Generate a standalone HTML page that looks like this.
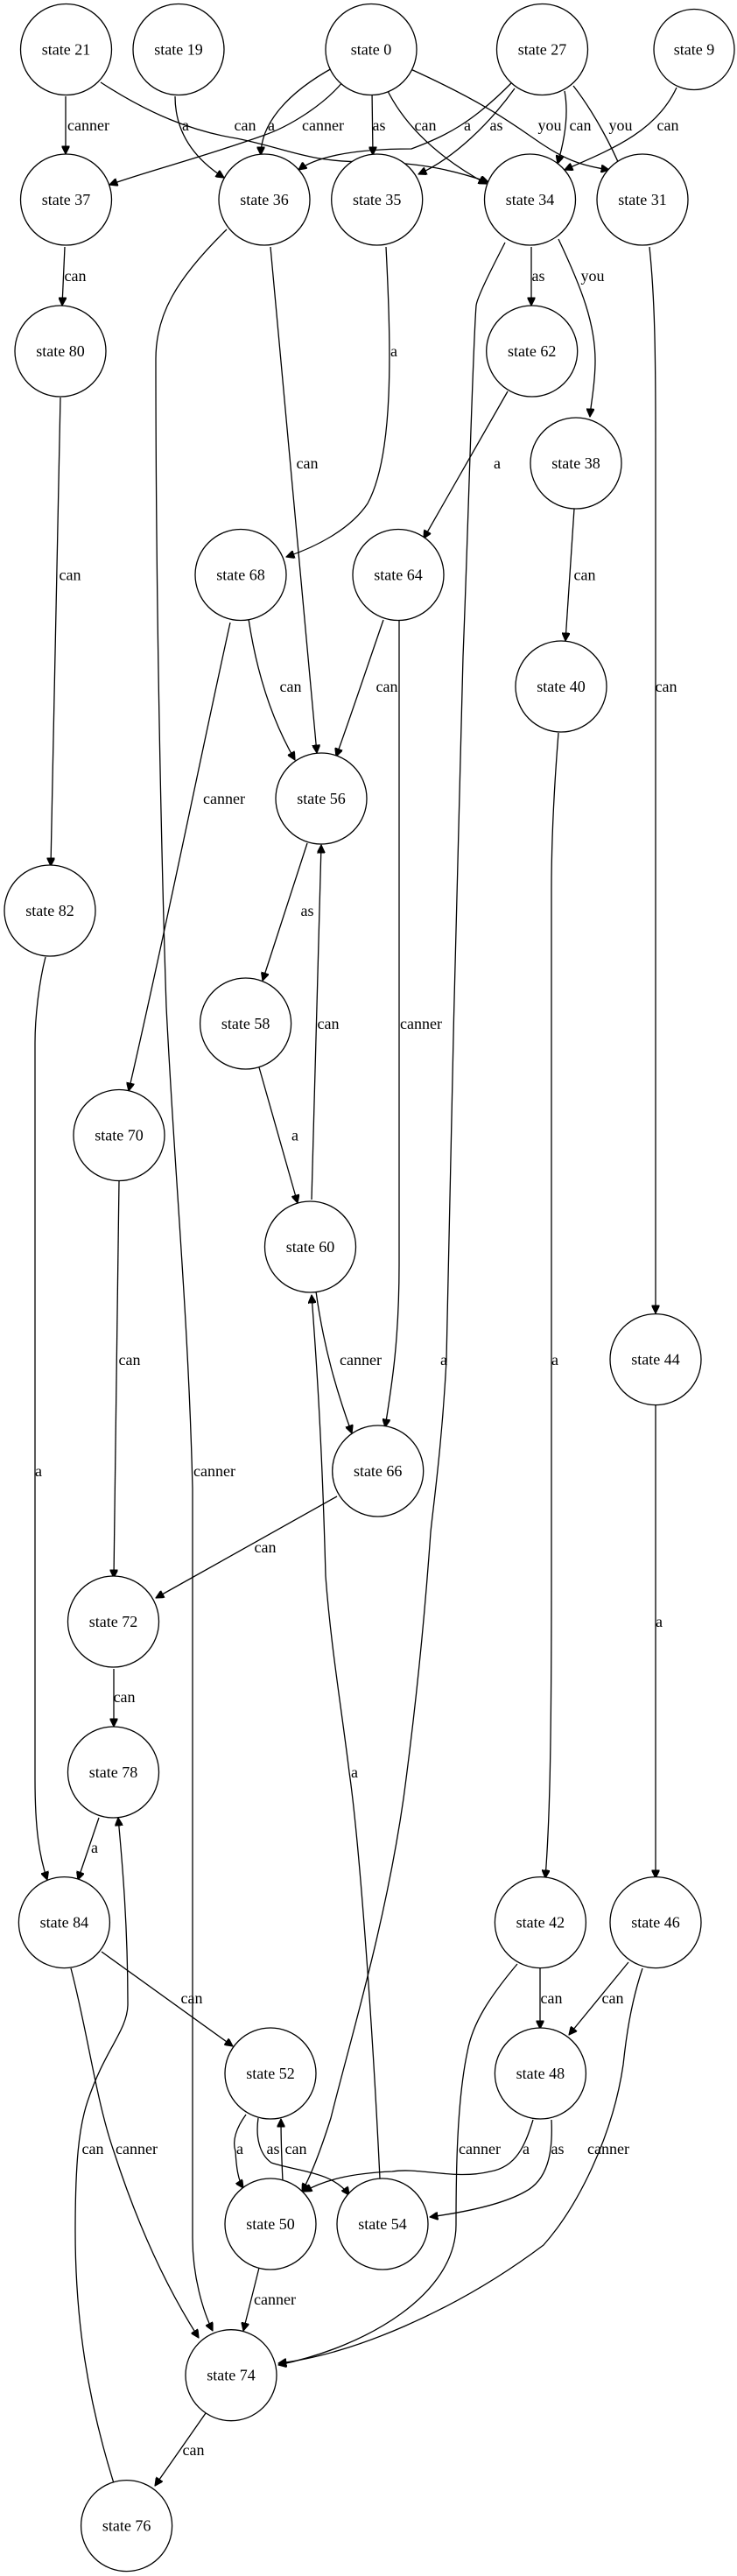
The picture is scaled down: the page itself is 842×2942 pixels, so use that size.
<!DOCTYPE html>
<html><head><meta charset="utf-8"><style>
html,body{margin:0;padding:0;background:#fff;}
svg{display:block;}
text{font-family:"Liberation Serif",serif;font-size:18px;fill:#000;}
.n{text-anchor:middle;dominant-baseline:central;}
.l{text-anchor:middle;dominant-baseline:central;}
path,line{fill:none;stroke:#000;stroke-width:1.3;}
circle{fill:#fff;stroke:#000;stroke-width:1.3;}
</style></head><body>
<svg width="842" height="2942" viewBox="0 0 842 2942" xmlns="http://www.w3.org/2000/svg">
<defs><marker id="a" viewBox="0 0 10 10" refX="10" refY="5" markerWidth="10" markerHeight="9" markerUnits="userSpaceOnUse" orient="auto"><path d="M0,0 L10,5 L0,10 z" style="fill:#000;stroke:#000"/></marker></defs>
<g marker-end="url(#a)">
<path d="M75,110 L75,176"/>
<path d="M115,94 C170,130 220,150 270,158 C330,170 350,185 420,185 C480,185 520,195 558,208"/>
<path d="M200,110 C200,150 220,180 256,203"/>
<path d="M381,77 C330,105 298,140 298,177"/>
<path d="M392,93 C370,120 330,145 300,155 C230,180 170,195 125,211"/>
<path d="M425,103 L426,177"/>
<path d="M441,100 C465,150 510,185 556,210"/>
<path d="M467,78 C560,120 590,145 620,165 C650,185 670,190 696,194"/>
<path d="M586,93 C540,140 510,155 470,170 C400,170 360,180 341,194"/>
<path d="M588,101 C560,140 520,180 478,199"/>
<path d="M645,104 C650,130 645,160 637,187"/>
<path d="M655,98 C680,130 700,170 710,194"/>
<path d="M773,100 C750,150 700,170 645,194"/>
<path d="M74,282 L71,349"/>
<path d="M69,454 L58,989"/>
<path d="M259,262 C200,320 178,360 178,410 C178,700 185,1000 190,1150 C200,1350 215,1500 220,1700 C220,2200 220,2450 220,2556 C220,2600 232,2640 243,2662"/>
<path d="M309,282 L362,860"/>
<path d="M441,282 C447,400 450,520 420,575 C400,605 360,625 327,636"/>
<path d="M607,282 L607,349"/>
<path d="M638,273 C665,330 680,370 680,412 C680,440 675,460 674,476"/>
<path d="M577,277 C560,310 545,340 544,349 C540,400 535,600 529,750 C522,1000 515,1300 510,1553 C505,1650 495,1720 492,1750 C485,1850 475,1950 461,2054 C440,2200 400,2330 378,2419 C365,2460 355,2485 345,2503"/>
<path d="M580,447 L484,615"/>
<path d="M656,581 L646,732"/>
<path d="M742,282 C748,340 749,400 749,500 L749,1500"/>
<path d="M284,707 C295,780 315,830 337,868"/>
<path d="M263,711 C230,860 190,1060 147,1246"/>
<path d="M438,708 C420,760 400,820 384,864"/>
<path d="M456,707 L456,1444 C456,1530 448,1580 440,1630"/>
<path d="M351,963 L300,1120"/>
<path d="M296,1219 L340,1374"/>
<path d="M356,1370 L367,965"/>
<path d="M361,1475 C370,1540 385,1590 402,1637"/>
<path d="M434,2488 C425,2300 410,2100 399,2024 C390,1950 378,1880 372,1800 C368,1650 362,1560 356,1479"/>
<path d="M638,837 C633,900 630,960 630,1016 L630,1800 C630,2000 628,2080 623,2145"/>
<path d="M749,1605 L749,2145"/>
<path d="M136,1349 L130,1802"/>
<path d="M385,1709 L178,1825"/>
<path d="M130,1906 L130,1972"/>
<path d="M113,2076 L89,2147"/>
<path d="M52,1093 C45,1120 40,1160 40,1191 L40,2031 C40,2090 45,2120 54,2147"/>
<path d="M116,2229 L266,2337"/>
<path d="M81,2248 C100,2320 110,2400 130,2457 C160,2550 195,2620 227,2670"/>
<path d="M130,2836 C100,2740 86,2650 86,2548 C86,2470 90,2430 100,2400 C120,2340 145,2320 146,2290 C146,2200 140,2130 135,2076"/>
<path d="M281,2415 C270,2430 265,2445 269,2457 C270,2475 272,2490 278,2499"/>
<path d="M295,2419 C292,2440 296,2460 310,2470 C340,2480 380,2480 399,2507"/>
<path d="M323,2491 C322,2470 321,2445 321,2420"/>
<path d="M617,2248 L617,2317"/>
<path d="M591,2243 C560,2280 540,2310 534,2343 C522,2400 521,2480 521,2541 C521,2620 420,2680 318,2701"/>
<path d="M718,2241 L650,2324"/>
<path d="M734,2248 C720,2290 715,2330 712,2358 C700,2440 660,2520 621,2564 C520,2640 400,2690 318,2699"/>
<path d="M609,2421 C600,2450 590,2475 560,2480 C520,2490 480,2475 448,2480 C400,2482 370,2490 347,2503"/>
<path d="M630,2421 C632,2460 625,2490 600,2503 C570,2520 520,2528 491,2532"/>
<path d="M296,2590 L278,2662"/>
<path d="M235,2756 L177,2839"/>
</g>
<g>
<circle cx="75.5" cy="56.5" r="52"/><text class="n" x="75.5" y="56.5">state 21</text>
<circle cx="204" cy="56.5" r="52"/><text class="n" x="204" y="56.5">state 19</text>
<circle cx="424" cy="56.5" r="52"/><text class="n" x="424" y="56.5">state 0</text>
<circle cx="619.5" cy="56.5" r="52"/><text class="n" x="619.5" y="56.5">state 27</text>
<circle cx="793" cy="56.5" r="46"/><text class="n" x="793" y="56.5">state 9</text>
<circle cx="75.5" cy="228" r="52"/><text class="n" x="75.5" y="228">state 37</text>
<circle cx="302" cy="228" r="52"/><text class="n" x="302" y="228">state 36</text>
<circle cx="430.7" cy="228" r="52"/><text class="n" x="430.7" y="228">state 35</text>
<circle cx="605.5" cy="228" r="52"/><text class="n" x="605.5" y="228">state 34</text>
<circle cx="734" cy="228" r="52"/><text class="n" x="734" y="228">state 31</text>
<circle cx="69" cy="401" r="52"/><text class="n" x="69" y="401">state 80</text>
<circle cx="607.7" cy="401" r="52"/><text class="n" x="607.7" y="401">state 62</text>
<circle cx="658" cy="529" r="52"/><text class="n" x="658" y="529">state 38</text>
<circle cx="275" cy="656.5" r="52"/><text class="n" x="275" y="656.5">state 68</text>
<circle cx="455" cy="656.5" r="52"/><text class="n" x="455" y="656.5">state 64</text>
<circle cx="641" cy="784" r="52"/><text class="n" x="641" y="784">state 40</text>
<circle cx="367" cy="912" r="52"/><text class="n" x="367" y="912">state 56</text>
<circle cx="57" cy="1040" r="52"/><text class="n" x="57" y="1040">state 82</text>
<circle cx="280.6" cy="1169" r="52"/><text class="n" x="280.6" y="1169">state 58</text>
<circle cx="136" cy="1296.5" r="52"/><text class="n" x="136" y="1296.5">state 70</text>
<circle cx="354.5" cy="1424" r="52"/><text class="n" x="354.5" y="1424">state 60</text>
<circle cx="749" cy="1552.6" r="52"/><text class="n" x="749" y="1552.6">state 44</text>
<circle cx="431.7" cy="1680" r="52"/><text class="n" x="431.7" y="1680">state 66</text>
<circle cx="129.5" cy="1852" r="52"/><text class="n" x="129.5" y="1852">state 72</text>
<circle cx="129.5" cy="2024" r="52"/><text class="n" x="129.5" y="2024">state 78</text>
<circle cx="73.4" cy="2195.6" r="52"/><text class="n" x="73.4" y="2195.6">state 84</text>
<circle cx="617.4" cy="2195.6" r="52"/><text class="n" x="617.4" y="2195.6">state 42</text>
<circle cx="749" cy="2195.6" r="52"/><text class="n" x="749" y="2195.6">state 46</text>
<circle cx="309" cy="2368" r="52"/><text class="n" x="309" y="2368">state 52</text>
<circle cx="617.4" cy="2368" r="52"/><text class="n" x="617.4" y="2368">state 48</text>
<circle cx="309" cy="2540" r="52"/><text class="n" x="309" y="2540">state 50</text>
<circle cx="437" cy="2540" r="52"/><text class="n" x="437" y="2540">state 54</text>
<circle cx="264" cy="2712.7" r="52"/><text class="n" x="264" y="2712.7">state 74</text>
<circle cx="144.6" cy="2884.6" r="52"/><text class="n" x="144.6" y="2884.6">state 76</text>
</g>
<g>
<text class="l" x="101" y="143">canner</text>
<text class="l" x="280" y="143">can</text>
<text class="l" x="212" y="143">a</text>
<text class="l" x="310" y="143">a</text>
<text class="l" x="369" y="143">canner</text>
<text class="l" x="433" y="143">as</text>
<text class="l" x="486" y="143">can</text>
<text class="l" x="628" y="143">you</text>
<text class="l" x="534" y="143">a</text>
<text class="l" x="567" y="143">as</text>
<text class="l" x="663" y="143">can</text>
<text class="l" x="709" y="143">you</text>
<text class="l" x="763" y="143">can</text>
<text class="l" x="86" y="315">can</text>
<text class="l" x="80" y="656.5">can</text>
<text class="l" x="245" y="1680">canner</text>
<text class="l" x="351" y="529">can</text>
<text class="l" x="450" y="401">a</text>
<text class="l" x="615" y="315">as</text>
<text class="l" x="677" y="315">you</text>
<text class="l" x="507" y="1553">a</text>
<text class="l" x="568" y="529">a</text>
<text class="l" x="668" y="656.5">can</text>
<text class="l" x="761" y="784">can</text>
<text class="l" x="332" y="784">can</text>
<text class="l" x="256" y="912">canner</text>
<text class="l" x="442" y="784">can</text>
<text class="l" x="481" y="1169">canner</text>
<text class="l" x="351" y="1040">as</text>
<text class="l" x="337" y="1296.5">a</text>
<text class="l" x="375" y="1169">can</text>
<text class="l" x="412" y="1553">canner</text>
<text class="l" x="405" y="2024">a</text>
<text class="l" x="634" y="1553">a</text>
<text class="l" x="753" y="1852">a</text>
<text class="l" x="148" y="1553">can</text>
<text class="l" x="303" y="1767">can</text>
<text class="l" x="142" y="1938">can</text>
<text class="l" x="108" y="2110">a</text>
<text class="l" x="44" y="1680">a</text>
<text class="l" x="219" y="2282">can</text>
<text class="l" x="156" y="2454">canner</text>
<text class="l" x="106" y="2454">can</text>
<text class="l" x="274" y="2454">a</text>
<text class="l" x="312" y="2454">as</text>
<text class="l" x="338" y="2454">can</text>
<text class="l" x="630" y="2282">can</text>
<text class="l" x="548" y="2454">canner</text>
<text class="l" x="700" y="2282">can</text>
<text class="l" x="695" y="2454">canner</text>
<text class="l" x="601" y="2454">a</text>
<text class="l" x="637" y="2454">as</text>
<text class="l" x="314" y="2626">canner</text>
<text class="l" x="221" y="2798">can</text>
</g>
</svg>
</body></html>
